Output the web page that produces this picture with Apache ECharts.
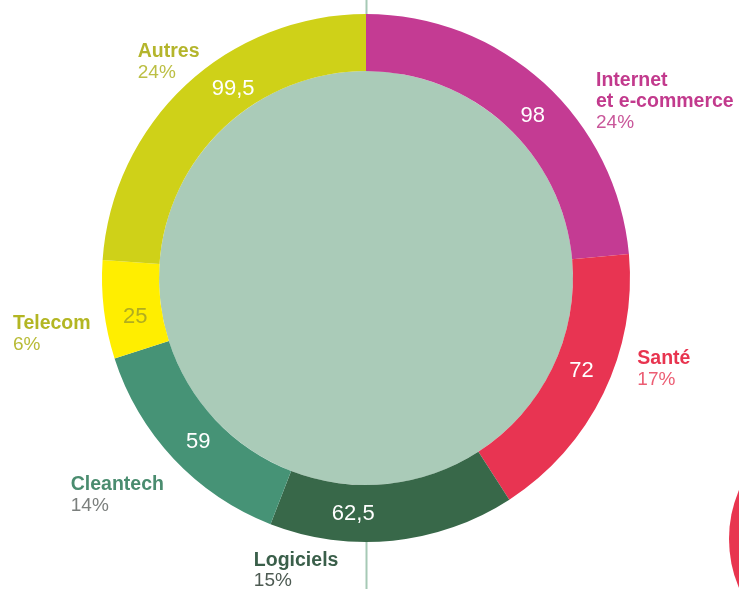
<!DOCTYPE html>
<html>
<head>
<meta charset="utf-8">
<script src="https://cdn.jsdelivr.net/npm/echarts@6/dist/echarts.min.js"></script>
<style>
  html, body { margin: 0; padding: 0; background: #fff; }
  #chart { width: 739px; height: 589px; }
</style>
</head>
<body>
<div id="chart"></div>
<script>
// secteurs et montants
const sectors = ['Internet\net e-commerce', 'Santé', 'Logiciels', 'Cleantech', 'Telecom', 'Autres'];
const amounts = [98, 72, 62.5, 59, 25, 99.5];

// couleurs
const sliceColors = ['#c43b93', '#e83452', '#386849', '#469376', '#ffee00', '#cfd118'];
const nameColors = ['#c23a8d', '#e8344f', '#3a5f4a', '#4a8c6f', '#b3b623', '#b4b52c'];
const pctColors = ['#c9579a', '#ec5d73', '#4d5a52', '#7b7f7d', '#b8bb36', '#bcbf44'];
const valueColors = ['#fff', '#fff', '#fff', '#fff', '#b1ad1f', '#fff'];

// petits décalages des étiquettes
const valueNudge = [[6, 14], [1, -11], [-37, -1], [6, 0], [6, 10], [30, -15]];
const nameNudge = [[52, 19], [34, -24], [-139, 30], [-103, 36], [-91, 24], [-48, -23]];

const font = "'Liberation Sans', Arial, sans-serif";
const center = [366, 278];

const ringData = sectors.map((s, i) => ({
  name: s,
  value: amounts[i],
  itemStyle: { color: sliceColors[i] },
  label: { color: valueColors[i] }
}));

const nameData = sectors.map((s, i) => ({
  name: s,
  value: amounts[i],
  label: {
    rich: {
      n: { fontFamily: font, fontSize: 19.5, fontWeight: 'bold', color: nameColors[i], lineHeight: 21 },
      p: { fontFamily: font, fontSize: 19, color: pctColors[i], lineHeight: 21 }
    }
  }
}));

const chart = echarts.init(document.getElementById('chart'));

chart.setOption({
  animation: false,
  graphic: [
    {
      type: 'line',
      z: -10,
      shape: { x1: 366.5, y1: 0, x2: 366.5, y2: 589 },
      style: { stroke: '#a6c9b5', lineWidth: 2 }
    },
    {
      type: 'circle',
      z: -10,
      shape: { cx: 854, cy: 539, r: 125 },
      style: { fill: '#e8354f' }
    }
  ],
  series: [
    {
      // disque central
      type: 'pie',
      center: center,
      radius: [0, 207],
      silent: true,
      label: { show: false },
      labelLine: { show: false },
      itemStyle: { color: '#aacbb8' },
      data: [{ value: 1, name: '' }]
    },
    {
      type: 'pie',
      center: center,
      radius: [207, 264],
      startAngle: 90,
      clockwise: true,
      silent: true,
      avoidLabelOverlap: false,
      label: {
        show: true,
        position: 'inside',
        fontFamily: font,
        fontSize: 22,
        formatter: p => String(p.value).replace('.', ',')
      },
      labelLayout: p => ({ dx: valueNudge[p.dataIndex][0], dy: valueNudge[p.dataIndex][1] }),
      labelLine: { show: false },
      data: ringData
    },
    {
      // étiquettes extérieures
      type: 'pie',
      center: center,
      radius: [207, 264],
      startAngle: 90,
      clockwise: true,
      silent: true,
      avoidLabelOverlap: false,
      percentPrecision: 0,
      itemStyle: { color: 'rgba(0,0,0,0)' },
      label: {
        show: true,
        position: 'outside',
        distanceToLabelLine: 0,
        formatter: p => p.name.split('\n').map(t => '{n|' + t + '}').join('\n') + '\n{p|' + p.percent + '%}'
      },
      labelLine: { show: false, length: 0, length2: 0 },
      labelLayout: p => ({
        dx: nameNudge[p.dataIndex][0],
        dy: nameNudge[p.dataIndex][1],
        align: 'left'
      }),
      data: nameData
    }
  ]
});
</script>
</body>
</html>
